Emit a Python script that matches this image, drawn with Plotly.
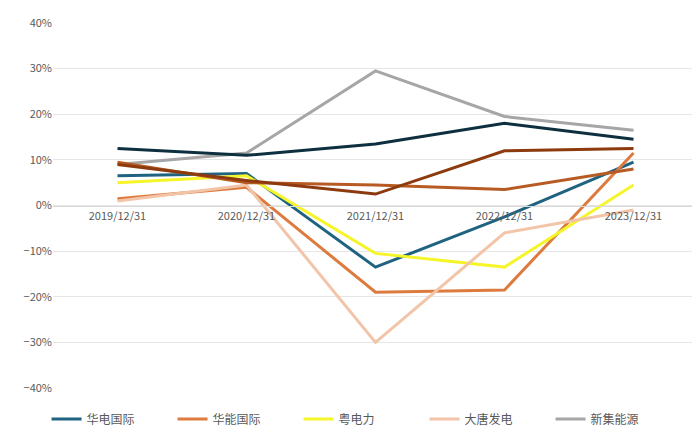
import plotly.graph_objects as go

dates = ["2019/12/31", "2020/12/31", "2021/12/31", "2022/12/31", "2023/12/31"]

huadian = [0.065, 0.070, -0.135, -0.025, 0.095]
huaneng = [0.015, 0.040, -0.190, -0.185, 0.115]
yuedian = [0.050, 0.065, -0.105, -0.135, 0.045]
datang = [0.010, 0.045, -0.300, -0.060, -0.010]
xinji = [0.090, 0.115, 0.295, 0.195, 0.165]
huaihe = [0.095, 0.050, 0.045, 0.035, 0.080]
shenhua = [0.125, 0.110, 0.135, 0.180, 0.145]
mengdian = [0.090, 0.055, 0.025, 0.120, 0.125]

series = [
    ("华电国际", huadian, "#1f6380"),
    ("华能国际", huaneng, "#dd7a3e"),
    ("粤电力", yuedian, "#f5f52a"),
    ("大唐发电", datang, "#f2c4a8"),
    ("新集能源", xinji, "#a6a6a6"),
    ("淮河能源", huaihe, "#b75a23"),
    ("中国神华", shenhua, "#0e2f3f"),
    ("内蒙华电", mengdian, "#8c3a0e"),
]

fig = go.Figure()
for name, vals, color in series:
    fig.add_trace(go.Scatter(
        x=dates, y=vals, mode="lines", name=name,
        line=dict(color=color, width=3)
    ))

fig.update_xaxes(
    type="category", range=[-0.5, 4.5],
    anchor="free", position=0.5,
    showline=True, linecolor="#d9d9d9", linewidth=1,
    showgrid=False, ticks="", tickfont=dict(size=11, color="#595959")
)
fig.update_yaxes(
    range=[-0.4, 0.4], dtick=0.1, tickformat=".0%",
    showgrid=True, gridcolor="#e6e6e6", zeroline=False,
    tickfont=dict(size=11, color="#595959")
)

fig.update_layout(
    width=700, height=426,
    margin=dict(l=45, r=10, t=15, b=46, autoexpand=False),
    plot_bgcolor="white", paper_bgcolor="white",
    font=dict(family="Noto Sans CJK SC", size=12, color="#595959"),
    legend=dict(orientation="h", x=-0.01, xanchor="left", y=-0.045, yanchor="top",
                font=dict(size=12), itemwidth=30, entrywidth=81,
                tracegroupgap=0),
)

fig.write_html("out.html")
